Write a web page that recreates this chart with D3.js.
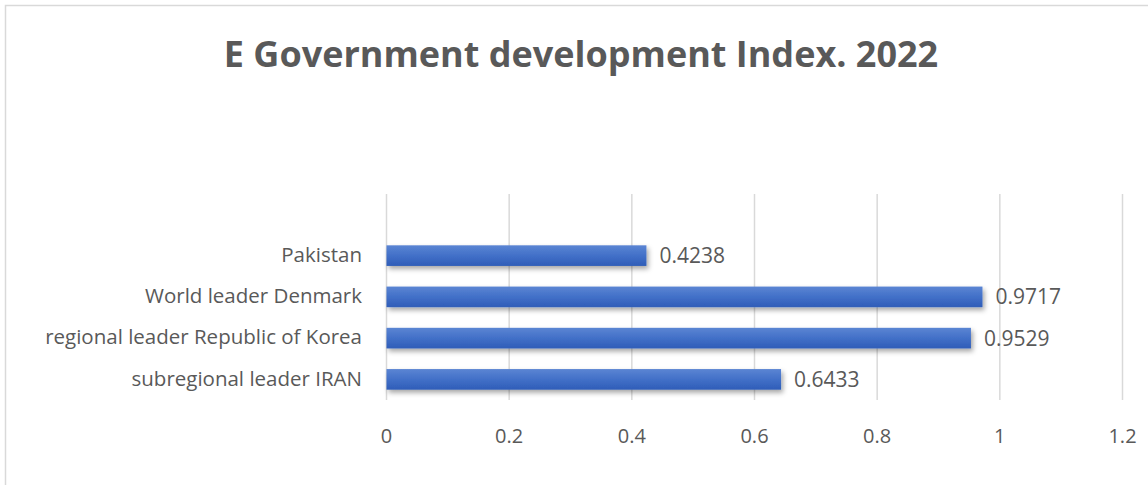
<!DOCTYPE html>
<html lang="en">
<head>
  <meta charset="utf-8">
  <title>E Government development Index</title>
  <style>
  * { margin:0; padding:0; }
  body { background:#fff; }
  svg text { font-family: "Open Sans", "Noto Sans", sans-serif; fill:#595959; }
  </style>
  <script src="https://d3js.org/d3.v7.min.js"></script>
</head>
<body>
  <div id="chart"></div>
  <script type="text/javascript">
  var categories = ["Pakistan", "World leader Denmark", "regional leader Republic of Korea", "subregional leader IRAN"];
  var values = [0.4238, 0.9717, 0.9529, 0.6433];
  var ticks = [0, 0.2, 0.4, 0.6, 0.8, 1, 1.2];
  var title = "E Government development Index. 2022";

  var w = 1148, h = 485;
  var svg = d3.select("#chart").append("svg")
    .attr("width", w)
    .attr("height", h);

  // chart frame
  svg.append("rect")
    .attr("x", 5.5).attr("y", 5.5)
    .attr("width", w + 20).attr("height", h + 20)
    .attr("fill", "#fff")
    .attr("stroke", "#d9d9d9")
    .attr("stroke-width", 1.5);

  var defs = svg.append("defs");
  var grad = defs.append("linearGradient")
    .attr("id", "barGrad")
    .attr("x1", 0).attr("y1", 0).attr("x2", 0).attr("y2", 1);
  grad.append("stop").attr("offset", "0%").attr("stop-color", "#5b85d3");
  grad.append("stop").attr("offset", "50%").attr("stop-color", "#4270c8");
  grad.append("stop").attr("offset", "100%").attr("stop-color", "#2f5db8");

  var shadow = defs.append("filter")
    .attr("id", "shadow")
    .attr("x", "-5%").attr("y", "-30%").attr("width", "110%").attr("height", "180%");
  shadow.append("feDropShadow")
    .attr("dx", 2).attr("dy", 3)
    .attr("stdDeviation", 2.5)
    .attr("flood-color", "#000")
    .attr("flood-opacity", 0.35);

  var plotTop = 194, plotBottom = 400;
  var x = d3.scaleLinear().domain([0, 1.2]).range([386.5, 1122.5]);
  var y = d3.scaleBand()
    .domain(categories)
    .range([plotTop + 41, plotBottom])
    .paddingInner(0.5)
    .paddingOuter(0.25);

  // gridlines
  svg.append("g")
    .selectAll("line")
    .data(ticks)
    .enter()
    .append("line")
    .attr("x1", function(d){ return x(d); })
    .attr("x2", function(d){ return x(d); })
    .attr("y1", plotTop)
    .attr("y2", plotBottom)
    .attr("stroke", "#d9d9d9")
    .attr("stroke-width", 1.5);

  // x tick labels
  svg.append("g")
    .selectAll("text")
    .data(ticks)
    .enter()
    .append("text")
    .attr("x", function(d){ return x(d); })
    .attr("y", 443)
    .attr("text-anchor", "middle")
    .style("font-size", "20px")
    .text(function(d){ return d3.format("")(d); });

  // bars
  svg.append("g")
    .selectAll("rect")
    .data(values)
    .enter()
    .append("rect")
    .attr("x", x(0))
    .attr("y", function(d, i){ return y(categories[i]); })
    .attr("width", function(d){ return x(d) - x(0); })
    .attr("height", y.bandwidth())
    .attr("fill", "url(#barGrad)")
    .attr("filter", "url(#shadow)");

  // value labels
  svg.append("g")
    .selectAll("text")
    .data(values)
    .enter()
    .append("text")
    .attr("x", function(d){ return x(d) + 13; })
    .attr("y", function(d, i){ return y(categories[i]) + y.bandwidth() / 2; })
    .attr("dy", "0.36em")
    .style("font-size", "21px")
    .text(function(d){ return d3.format(".4f")(d); });

  // category labels
  svg.append("g")
    .selectAll("text")
    .data(categories)
    .enter()
    .append("text")
    .attr("x", 362)
    .attr("y", function(d){ return y(d) + y.bandwidth() / 2; })
    .attr("dy", "0.3em")
    .attr("text-anchor", "end")
    .style("font-size", "20.5px")
    .text(function(d){ return d; });

  // title
  svg.append("text")
    .attr("x", 581)
    .attr("y", 67)
    .attr("text-anchor", "middle")
    .style("font-size", "36px")
    .style("font-weight", "bold")
    .text(title);
  </script>
</body>
</html>
